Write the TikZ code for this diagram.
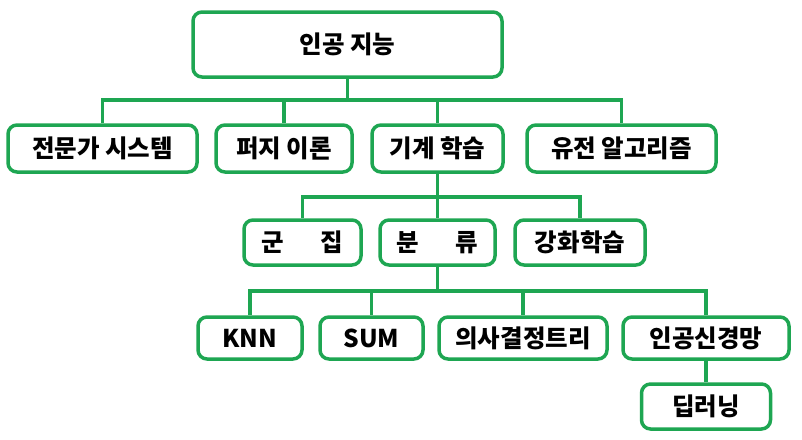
\documentclass[tikz,border=0pt]{standalone}
\usepackage{fontspec}
\newfontfamily\kor{Noto Sans CJK KR}
\usetikzlibrary{calc}
\definecolor{treegreen}{RGB}{30,166,82}

\begin{document}
\begin{tikzpicture}[x=1pt,y=-1pt,
  box/.style={draw=treegreen,line width=3.5pt,rounded corners=9pt,fill=white,
    font=\kor\bfseries\fontsize{24.5}{26}\selectfont,inner sep=0pt},
  link/.style={draw=treegreen,line width=3.2pt}]
  \useasboundingbox (0,0) rectangle (802,439);
  % boxes
  \node[box,minimum width=309,minimum height=65] (AI) at (347.5,44.5) {인공 지능};
  \node[box,minimum width=189,minimum height=47] (ES) at (102.5,148.5) {전문가 시스템};
  \node[box,minimum width=136,minimum height=47] (FZ) at (284,148.5) {퍼지 이론};
  \node[box,minimum width=131,minimum height=47] (ML) at (437.5,148.5) {기계 학습};
  \node[box,minimum width=189,minimum height=47] (GA) at (621.5,148.5) {유전 알고리즘};
  \node[box,minimum width=117,minimum height=45] (CL) at (302.5,242.5) {군\hspace{1.5em}집};
  \node[box,minimum width=115,minimum height=45] (CF) at (437.5,242.5) {분\hspace{1.5em}류};
  \node[box,minimum width=130,minimum height=45] (RL) at (580,242.5) {강화학습};
  \node[box,minimum width=104,minimum height=42] (KNN) at (250,338) {KNN};
  \node[box,minimum width=103,minimum height=42] (SUM) at (371.5,338) {SUM};
  \node[box,minimum width=168,minimum height=42] (DT) at (523,338) {의사결정트리};
  \node[box,minimum width=166,minimum height=42] (NN) at (706,338) {인공신경망};
  \node[box,minimum width=129,minimum height=45] (DL) at (706,406.5) {딥러닝};
  % branch levels
  \coordinate (b1) at (0,100);
  \coordinate (b2) at (0,197);
  \coordinate (b3) at (0,291);
  \foreach \c in {ES,FZ,ML,GA}
    \draw[link] (AI.south) -- (AI.south |- b1) -| (\c.north);
  \foreach \c in {CL,CF,RL}
    \draw[link] (ML.south) -- (ML.south |- b2) -| (\c.north);
  \foreach \c in {KNN,SUM,DT,NN}
    \draw[link] (CF.south) -- (CF.south |- b3) -| (\c.north);
  \draw[link] (NN.south) -- (DL.north);
\end{tikzpicture}
\end{document}
